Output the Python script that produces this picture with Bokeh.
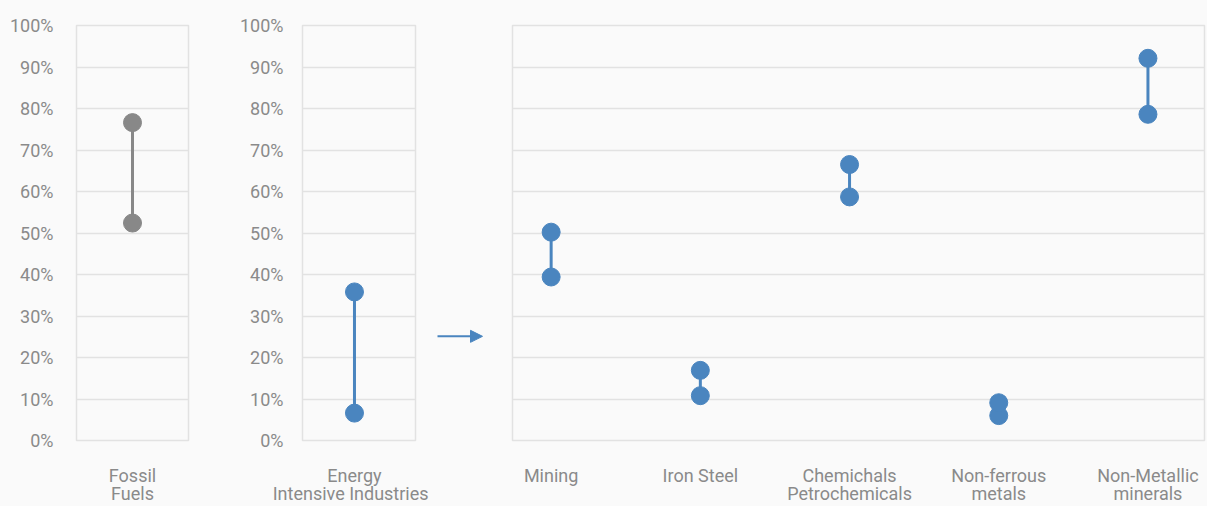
from bokeh.plotting import figure
from bokeh.layouts import row
from bokeh.models import Range1d, FixedTicker, Arrow, NormalHead, LinearAxis
from bokeh.embed import file_html
from bokeh.resources import INLINE

# ---- data ----
fossil_cat = ["Fossil\nFuels"]
fossil_low = [52.4]
fossil_high = [76.6]

eii_cat = ["Energy\nIntensive Industries"]
eii_low = [6.6]
eii_high = [35.8]

sector_cat = ["Mining", "Iron Steel", "Chemichals\nPetrochemicals",
              "Non-ferrous\nmetals", "Non-Metallic\nminerals"]
sector_low = [39.4, 10.8, 58.7, 6.0, 78.6]
sector_high = [50.2, 16.9, 66.5, 9.1, 92.1]

y_ticks = [0, 10, 20, 30, 40, 50, 60, 70, 80, 90, 100]

# ---- style ----
BG = "#fafafa"
GRID = "#e2e2e2"
TXT = "#8a8a8a"
BLUE = "#4a85bf"
GRAY = "#888888"
FONT = "Roboto"
H = 506
TOP = 25
BOTTOM = 66


def style_axis(ax):
    ax.axis_line_color = None
    ax.major_tick_line_color = None
    ax.minor_tick_line_color = None
    ax.major_tick_out = 0
    ax.major_tick_in = 0
    ax.minor_tick_out = 0
    ax.minor_tick_in = 0
    ax.major_label_text_font = FONT
    ax.major_label_text_font_size = "18px"
    ax.major_label_text_color = TXT


def make_panel(cats, low, high, color, width, bl, br, xr, ystand):
    p = figure(width=width, height=H, output_backend="svg", toolbar_location=None,
               x_range=xr, y_range=Range1d(0, 100),
               min_border_left=bl, min_border_right=br,
               min_border_top=TOP, min_border_bottom=BOTTOM)
    p.background_fill_color = BG
    p.border_fill_color = BG
    p.outline_line_color = GRID
    p.outline_line_width = 1.5
    xs = [i + 0.5 for i in range(len(cats))]
    p.segment(x0=xs, y0=low, x1=xs, y1=high, line_color=color, line_width=3)
    p.scatter(x=xs + xs, y=list(low) + list(high), size=18,
              fill_color=color, line_color=color)
    first = [c.split("\n")[0] for c in cats]
    second = [(c.split("\n") + [""])[1] for c in cats]
    # first line of category labels
    p.xaxis.ticker = FixedTicker(ticks=xs)
    p.xaxis.major_label_overrides = {x: c for x, c in zip(xs, first)}
    style_axis(p.xaxis[0])
    p.xaxis.major_label_standoff = 24
    # second line of category labels
    ax2 = LinearAxis(ticker=FixedTicker(ticks=xs),
                     major_label_overrides={x: c for x, c in zip(xs, second)})
    style_axis(ax2)
    ax2.major_label_standoff = -6
    p.add_layout(ax2, "below")
    # y axis
    p.yaxis.ticker = FixedTicker(ticks=y_ticks)
    p.yaxis.major_label_overrides = {t: f"{t}%" for t in y_ticks}
    style_axis(p.yaxis[0])
    if ystand is None:
        p.yaxis.visible = False
    else:
        p.yaxis.major_label_standoff = ystand
    p.xgrid.grid_line_color = None
    p.ygrid.grid_line_color = GRID
    p.ygrid.grid_line_width = 1.5
    return p


p1 = make_panel(fossil_cat, fossil_low, fossil_high, GRAY, 228, 76, 40,
                Range1d(0, 1), 23)
p2 = make_panel(eii_cat, eii_low, eii_high, BLUE, 202, 74, 15,
                Range1d(0.04, 1.04), 19)
p3 = make_panel(sector_cat, sector_low, sector_high, BLUE, 702, 7, 3,
                Range1d(0.241, 4.879), None)

# arrow spacer
pa = figure(width=75, height=H, output_backend="svg", toolbar_location=None,
            x_range=Range1d(0, 75), y_range=Range1d(0, 100),
            min_border_left=0, min_border_right=0,
            min_border_top=TOP, min_border_bottom=BOTTOM)
pa.background_fill_color = BG
pa.border_fill_color = BG
pa.outline_line_color = None
pa.axis.visible = False
pa.grid.visible = False
pa.add_layout(Arrow(x_start=7, y_start=25.1, x_end=52, y_end=25.1,
                    line_color=BLUE, line_width=2,
                    end=NormalHead(size=12, fill_color=BLUE, line_color=BLUE)))

layout = row(p1, p2, pa, p3, spacing=0)
layout.styles = {"background-color": BG}

open("out.html", "w").write(file_html(layout, INLINE))
